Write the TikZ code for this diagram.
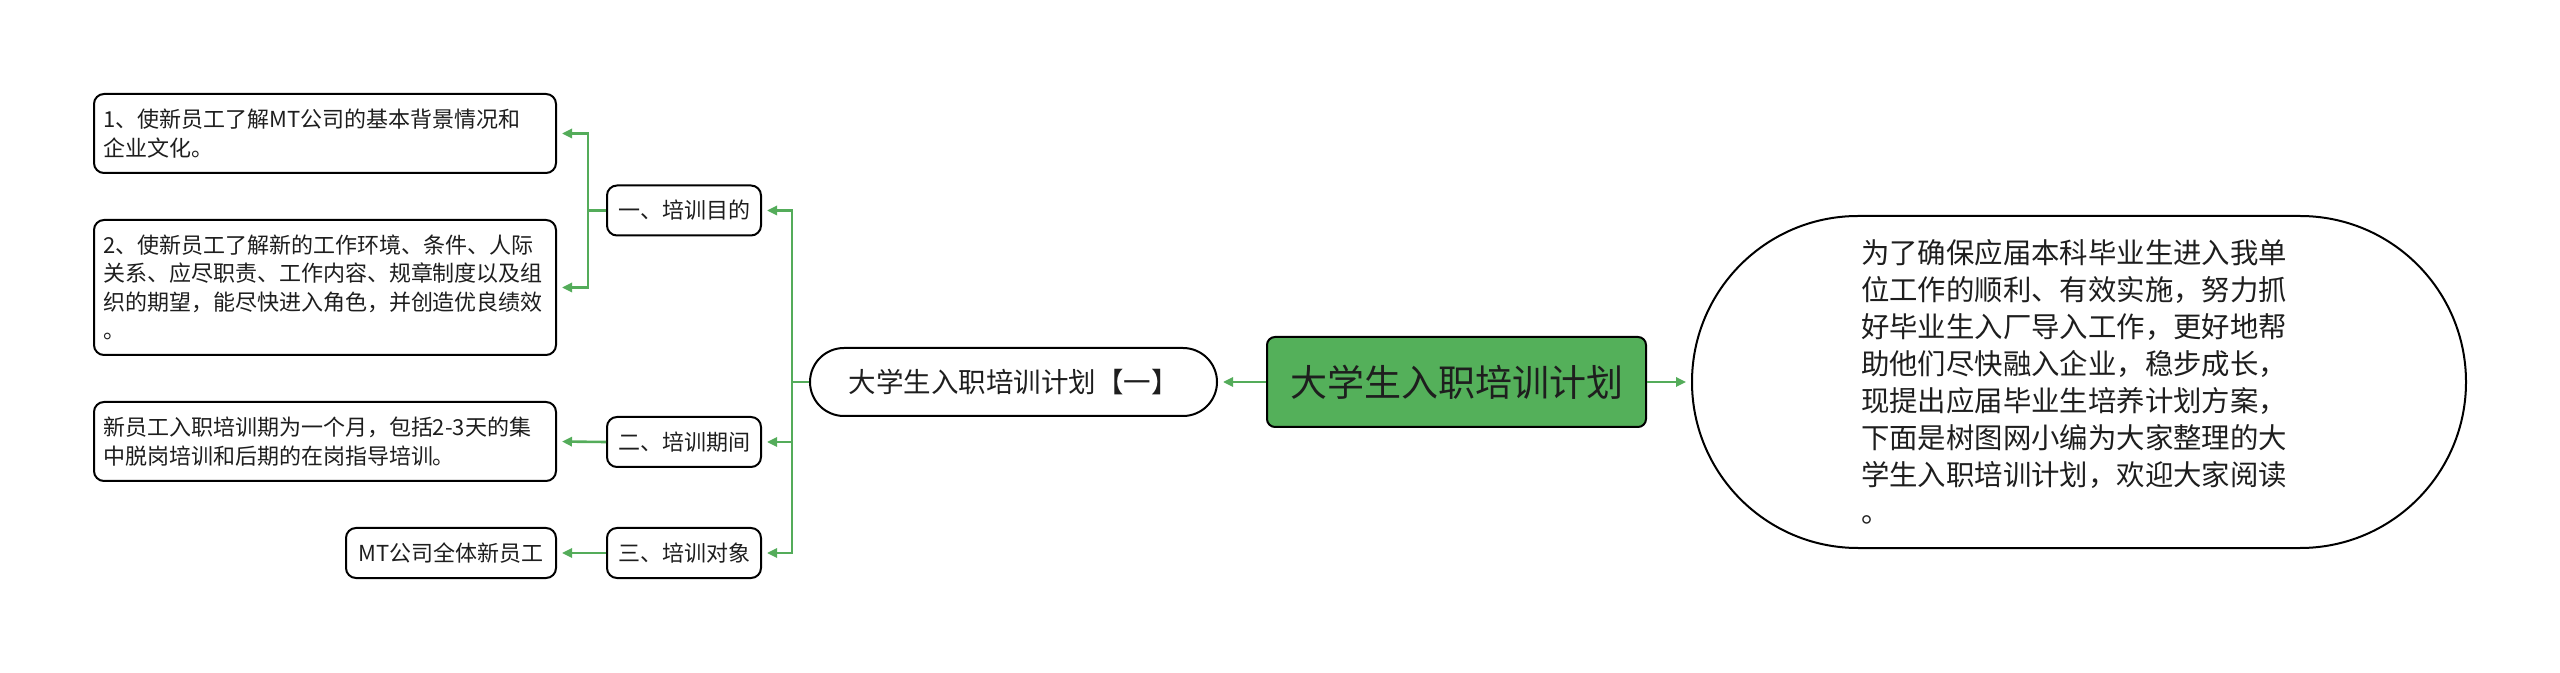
\documentclass[tikz,border=0pt]{standalone}
\usepackage{fontspec}
\setmainfont{Noto Sans CJK SC}
\usetikzlibrary{shapes.misc,arrows.meta}
\definecolor{lgreen}{RGB}{84,172,90}
\definecolor{mgreen}{RGB}{84,176,90}
\definecolor{txt}{RGB}{30,30,30}
\begin{document}
\begin{tikzpicture}[x=0.5pt,y=-0.5pt,
  box/.style={draw=black,line width=1pt,rounded corners=5pt,inner sep=0pt,text=txt,fill=white},
  leaf/.style={box,text width=222pt,inner xsep=4.5pt,inner ysep=0pt,align=left,font=\fontsize{11pt}{14.25pt}\selectfont},
  sub/.style={box,minimum width=77pt,minimum height=25pt,font=\fontsize{11pt}{14pt}\selectfont},
  pill/.style={draw=black,line width=1pt,rounded rectangle,inner sep=0pt,minimum width=203.5pt,minimum height=34pt,text=txt,font=\fontsize{13.75pt}{16pt}\selectfont},
  mainbox/.style={draw=black,line width=1pt,rounded corners=4pt,fill=mgreen,inner sep=0pt,minimum width=189.5pt,minimum height=45pt,text=txt,font=\fontsize{18.5pt}{22pt}\selectfont},
  bigbox/.style={draw=black,line width=1pt,rounded rectangle,inner sep=0pt,minimum width=387pt,minimum height=166pt,text width=218pt,align=left,text=txt,font=\fontsize{14.2pt}{18.5pt}\selectfont},
  conn/.style={draw=lgreen,line width=1.3pt,-{Triangle[length=5pt,width=4.6pt]},shorten >=2.5pt}
]
\useasboundingbox (0,0) rectangle (2560,673);
\node[leaf,minimum height=39.5pt] (b1) at (325,133.5) {1、使新员工了解MT公司的基本背景情况和\\企业文化。};
\node[leaf,minimum height=67.5pt] (b2) at (325,287.5) {2、使新员工了解新的工作环境、条件、人际\\关系、应尽职责、工作内容、规章制度以及组\\织的期望，能尽快进入角色，并创造优良绩效\\。};
\node[leaf,minimum height=39.5pt] (b3) at (325,441.5) {新员工入职培训期为一个月，包括2-3天的集\\中脱岗培训和后期的在岗指导培训。};
\node[sub,minimum width=105pt] (mt) at (451,553) {MT公司全体新员工};
\node[sub] (k1) at (684,210.5) {一、培训目的};
\node[sub] (k2) at (684,442) {二、培训期间};
\node[sub] (k3) at (684,553) {三、培训对象};
\node[pill] (p) at (1013.5,382) {大学生入职培训计划【一】};
\node[mainbox] (m) at (1456.5,382) {大学生入职培训计划};
\node[bigbox] (d) at (2079,382) {为了确保应届本科毕业生进入我单\\位工作的顺利、有效实施，努力抓\\好毕业生入厂导入工作，更好地帮\\助他们尽快融入企业，稳步成长，\\现提出应届毕业生培养计划方案，\\下面是树图网小编为大家整理的大\\学生入职培训计划，欢迎大家阅读\\。};
\draw[conn] (m.west) -- (p.east);
\draw[conn] (m.east) -- (d.west);
\draw[conn] (p.west) -- ++(-17,0) |- (k1.east);
\draw[conn] (p.west) -- ++(-17,0) |- (k2.east);
\draw[conn] (p.west) -- ++(-17,0) |- (k3.east);
\draw[conn] (k1.west) -- ++(-18,0) |- (b1.east);
\draw[conn] (k1.west) -- ++(-18,0) |- (b2.east);
\draw[conn] (k2.west) -- (b3.east);
\draw[conn] (k3.west) -- (mt.east);
\end{tikzpicture}
\end{document}
